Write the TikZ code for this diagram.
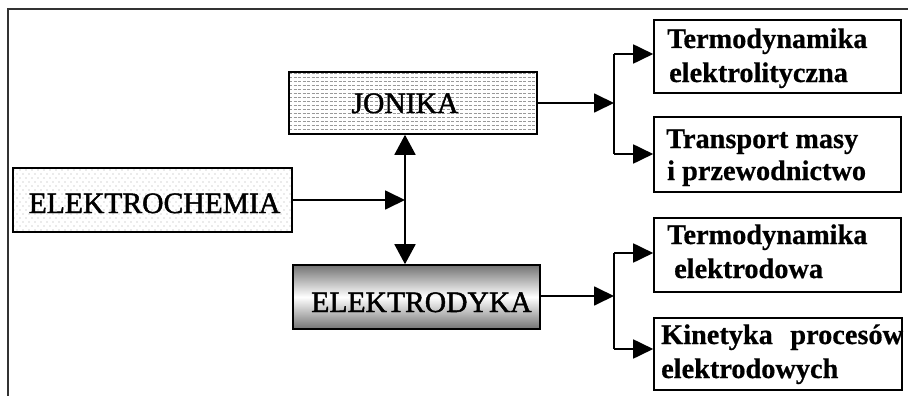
\documentclass[tikz,border=0pt]{standalone}
\usepackage{fontspec}
\setmainfont{Liberation Serif}
\newfontfamily\heavyroman[FakeBold=1.6]{Liberation Serif}
\newfontfamily\heavybold[FakeBold=0.6,UprightFont=* Bold]{Liberation Serif}
\usetikzlibrary{arrows.meta}
\begin{document}
\begin{tikzpicture}[x=1pt,y=-1pt,
  box/.style={draw, line width=1.6pt, inner sep=0pt},
  arr/.style={line width=1.8pt, -{Triangle[length=20pt,width=19pt]}},
  darr/.style={line width=1.8pt, {Triangle[length=20pt,width=21pt]}-{Triangle[length=20pt,width=21pt]}},
  ln/.style={line width=1.8pt},
  big/.style={font=\heavyroman\fontsize{29.6}{33}\selectfont, inner sep=0pt, anchor=base},
  small/.style={font=\heavybold\fontsize{28.3}{33}\selectfont, inner sep=0pt, anchor=base west},
  dashpat/.style={gray!80, line width=0.8pt, dash pattern=on 3pt off 1.5pt},
]
\useasboundingbox (0,0) rectangle (908,396);
\fill[white] (0,0) rectangle (908,396);
% frame
\draw[line width=1.2pt, black!80] (8,396) -- (8,9) -- (908,9);

% JONIKA fill: dashed horizontal lines
\begin{scope}
  \clip (289,72) rectangle (537,134);
  \foreach \r in {0,...,16} {
    \draw[dashpat] (289,{73+\r*4}) -- (537,{73+\r*4});
  }
\end{scope}
% ELEKTROCHEMIA fill: staggered dots
\begin{scope}
  \clip (13,168) rectangle (292,232);
  \foreach \r in {0,...,16} {
    \pgfmathsetmacro{\off}{mod(\r,2)*3}
    \foreach \c in {0,...,47} {
      \fill[gray!65] ({14+\off+\c*6},{170+\r*4}) circle (0.65pt);
    }
  }
\end{scope}

% main boxes
\node[box, minimum width=248pt, minimum height=62pt] (jon) at (413,103) {};
\node[box, minimum width=279pt, minimum height=64pt] (ech) at (152.5,200) {};
\node[box, minimum width=247pt, minimum height=64pt,
      top color=black!55, bottom color=black!55, middle color=white] (edy) at (416.5,297) {};

\node[big] (jonT) at (405,113) {JONIKA};
\node[big] (echT) at (154.5,213) {ELEKTROCHEMIA};
\node[big] (edyT) at (421.5,312) {ELEKTRODYKA};

% right boxes
\node[box, minimum width=247pt, minimum height=73pt] (t1) at (777.5,56.5) {};
\node[box, minimum width=247pt, minimum height=75pt] (t2) at (777.5,154.5) {};
\node[box, minimum width=247pt, minimum height=74pt] (t3) at (777.5,255) {};
\node[box, minimum width=248pt, minimum height=72pt] (t4) at (778,354) {};

\node[small] (t1a) at (667,48) {Termodynamika};
\node[small] (t1b) at (669,82) {elektrolityczna};
\node[small] (t2a) at (666,148) {Transport masy};
\node[small] (t2b) at (667,180) {i przewodnictwo};
\node[small] (t3a) at (667,244) {Termodynamika};
\node[small] (t3b) at (674,278) {elektrodowa};
\node[small] (t4a) at (661,344) {Kinetyka\hspace{0.62em}procesów};
\node[small] (t4b) at (661,378) {elektrodowych};

% central connectors
\coordinate (vx) at (405,0);
\draw[darr] (jon.south -| vx) -- (edy.north -| vx);
\draw[arr] (ech.east) -- (ech.east -| vx);

% JONIKA branch
\coordinate (ja) at (614,103);
\coordinate (j1) at (614,54);
\coordinate (j2) at (614,154);
\draw[arr] (jon.east |- ja) -- (ja);
\draw[ln] (j1) -- (j2);
\draw[arr] (j1) -- (j1 -| t1.west);
\draw[arr] (j2) -- (j2 -| t2.west);

% ELEKTRODYKA branch
\coordinate (ea) at (614,296);
\coordinate (e1) at (614,253);
\coordinate (e2) at (614,349);
\draw[arr] (edy.east |- ea) -- (ea);
\draw[ln] (e1) -- (e2);
\draw[arr] (e1) -- (e1 -| t3.west);
\draw[arr] (e2) -- (e2 -| t4.west);
\end{tikzpicture}
\end{document}
